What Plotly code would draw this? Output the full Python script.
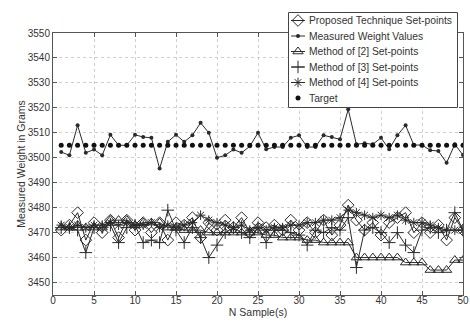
import plotly.graph_objects as go

samples = list(range(1, 51))

target = [3505] * 50

measured = [3502.3, 3501, 3513, 3502, 3503.3, 3501, 3509.2, 3505, 3505, 3509.2,
            3508.3, 3508, 3495.7, 3506.4, 3509.2, 3506.4, 3509, 3514, 3510, 3500,
            3501, 3503.3, 3502, 3504.6, 3510, 3503.4, 3504.3, 3504.3, 3508, 3509,
            3504.3, 3504.3, 3509, 3508.3, 3507.4, 3519.4, 3505.4, 3505.8, 3505.4, 3508,
            3503.4, 3509, 3513, 3505.1, 3505.1, 3503, 3502.7, 3498, 3505.4, 3501.1]

proposed = [3471, 3473, 3478, 3467, 3474, 3470, 3475, 3468, 3475, 3471,
            3474, 3470, 3474, 3467, 3474, 3473, 3476, 3468, 3474, 3471,
            3475, 3472, 3476, 3470, 3474, 3472, 3473, 3471, 3475, 3471,
            3474, 3470, 3475, 3469, 3473, 3481, 3475, 3471, 3474, 3469,
            3474, 3476, 3478, 3470, 3474, 3470, 3473, 3467, 3476, 3471]

method2 = [3472, 3472, 3473, 3472, 3472, 3472, 3475, 3475, 3475, 3473,
           3474, 3474, 3474, 3472, 3472, 3471, 3471, 3471, 3470, 3470,
           3470, 3470, 3470, 3470, 3470, 3469, 3469, 3468, 3468, 3468,
           3467, 3467, 3466, 3466, 3466, 3466, 3460, 3460, 3460, 3460,
           3460, 3460, 3458, 3458, 3458, 3455, 3455, 3455, 3459, 3459]

method3 = [3472, 3472, 3471, 3462, 3472, 3472, 3473, 3466, 3472, 3473,
           3466, 3467, 3466, 3479, 3471, 3466, 3472, 3468, 3460, 3465,
           3470, 3472, 3470, 3468, 3472, 3466, 3471, 3471, 3470, 3469,
           3465, 3471, 3470, 3472, 3471, 3476, 3456, 3471, 3472, 3470,
           3466, 3470, 3465, 3462, 3471, 3472, 3470, 3471, 3478, 3471]

method4 = [3473, 3472, 3473, 3472, 3473, 3473, 3474, 3473, 3474, 3473,
           3473, 3474, 3472, 3473, 3472, 3473, 3474, 3477, 3475, 3474,
           3473, 3472, 3473, 3471, 3472, 3471, 3472, 3472, 3473, 3473,
           3474, 3474, 3475, 3475, 3476, 3479, 3478, 3477, 3476, 3477,
           3476, 3477, 3475, 3474, 3474, 3473, 3472, 3471, 3471, 3471]

x_ticks = [0, 5, 10, 15, 20, 25, 30, 35, 40, 45, 50]
y_ticks = [3450, 3460, 3470, 3480, 3490, 3500, 3510, 3520, 3530, 3540, 3550]

legend_labels = ["Proposed Technique Set-points", "Measured Weight Values",
                 "Method of [2] Set-points", "Method of [3] Set-points",
                 "Method of [4] Set-points", "Target"]

ink = "#2a2a2a"
family = "Liberation Sans, Arial, sans-serif"

styles = [
    dict(mode="lines+markers", line=dict(color=ink, width=1),
         marker=dict(symbol="diamond-open", size=9, color=ink, line=dict(width=1, color=ink))),
    dict(mode="lines+markers", line=dict(color=ink, width=1),
         marker=dict(symbol="circle", size=4, color=ink)),
    dict(mode="lines+markers", line=dict(color=ink, width=1),
         marker=dict(symbol="triangle-up-open", size=9, color=ink, line=dict(width=1, color=ink))),
    dict(mode="lines+markers", line=dict(color=ink, width=1),
         marker=dict(symbol="cross-thin-open", size=9, color=ink, line=dict(width=1, color=ink))),
    dict(mode="lines+markers", line=dict(color=ink, width=1),
         marker=dict(symbol="asterisk-open", size=8, color=ink, line=dict(width=1, color=ink))),
    dict(mode="markers", marker=dict(symbol="circle", size=5, color="#111111")),
]
series = [proposed, measured, method2, method3, method4, target]

fig = go.Figure()
for name, ys, st in zip(legend_labels, series, styles):
    fig.add_trace(go.Scatter(x=samples, y=ys, name=name, showlegend=False,
                             xaxis="x", yaxis="y", **st))

# ---- custom legend box (drawn in its own small subplot, in pixel-like units) ----
box_w, box_h = 170, 96
fig.add_trace(go.Scatter(
    x=[0.5, box_w - 0.5, box_w - 0.5, 0.5, 0.5],
    y=[0.5, 0.5, box_h - 0.5, box_h - 0.5, 0.5],
    mode="lines", fill="toself", fillcolor="white",
    line=dict(color="#444444", width=1), showlegend=False, hoverinfo="skip",
    xaxis="x2", yaxis="y2"))
row0, row_gap = 8.5, 15.5
for i, (name, st) in enumerate(zip(legend_labels, styles)):
    ry = row0 + row_gap * i
    if "lines" in st["mode"]:
        fig.add_trace(go.Scatter(x=[3, 10, 17], y=[ry, ry, ry], mode="lines",
                                 line=st["line"], showlegend=False, hoverinfo="skip",
                                 xaxis="x2", yaxis="y2"))
    fig.add_trace(go.Scatter(x=[10], y=[ry], mode="markers", marker=st["marker"],
                             showlegend=False, hoverinfo="skip",
                             xaxis="x2", yaxis="y2"))
    fig.add_annotation(x=18.5, y=ry, xref="x2", yref="y2", text=name,
                       showarrow=False, xanchor="left", yanchor="middle",
                       font=dict(family=family, size=10.3, color="#333333"))

font = dict(family=family, size=10, color="#333333")
title_font = dict(family=family, size=10.5, color="#333333")

W, H = 470, 323
ml, mr, mt, mb = 53, 7, 12, 28
pw, ph = W - ml - mr, H - mt - mb
plot_top_px = 33
leg_left_px, leg_top_px = 288, 12

fig.update_layout(
    width=W, height=H,
    margin=dict(l=ml, r=mr, t=mt, b=mb),
    paper_bgcolor="white", plot_bgcolor="white",
    font=font, showlegend=False,
    xaxis=dict(domain=[0, 1], anchor="y", range=[0, 50], tickvals=x_ticks,
               ticktext=[str(v) for v in x_ticks],
               showgrid=True, gridcolor="#cfcfcf", griddash="dot", gridwidth=1,
               showline=True, linecolor="#555555", linewidth=1, mirror="ticks",
               ticks="inside", ticklen=4, tickcolor="#555555",
               zeroline=False, automargin=False, ticklabelstandoff=-4,
               tickfont=font,
               title=dict(text="N Sample(s)", standoff=0, font=title_font)),
    yaxis=dict(domain=[0, (H - mb - plot_top_px) / ph], anchor="x",
               range=[3445, 3550], tickvals=y_ticks, ticktext=[str(v) for v in y_ticks],
               showgrid=True, gridcolor="#cfcfcf", griddash="dot", gridwidth=1,
               showline=True, linecolor="#555555", linewidth=1, mirror="ticks",
               ticks="inside", ticklen=4, tickcolor="#555555",
               zeroline=False, automargin=False, tickfont=font,
               title=dict(text="Measured Weight in Grams", standoff=0, font=title_font)),
    xaxis2=dict(domain=[(leg_left_px - ml) / pw, (leg_left_px + box_w - ml) / pw],
                anchor="y2", range=[0, box_w], visible=False, fixedrange=True),
    yaxis2=dict(domain=[(H - mb - leg_top_px - box_h) / ph, (H - mb - leg_top_px) / ph],
                anchor="x2", range=[box_h, 0], visible=False, fixedrange=True),
)

fig.write_html("out.html", config={"displayModeBar": False},
               post_script="document.body.style.margin='0';document.body.style.overflow='hidden';")
